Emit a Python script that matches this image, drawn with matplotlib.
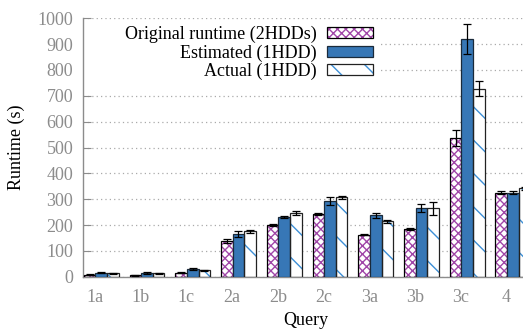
import numpy as np
import matplotlib
matplotlib.use("Agg")
import matplotlib.pyplot as plt
from matplotlib.patches import Patch, Rectangle

# values (seconds)
queries = ['1a', '1b', '1c', '2a', '2b', '2c', '3a', '3b', '3c', '4']
orig = [7, 6, 16, 138, 201, 243, 163, 185, 537, 325]
orig_err = [2, 2, 3, 8, 3, 5, 3, 4, 32, 6]
est = [16, 14, 29, 166, 232, 294, 237, 265, 920, 325]
est_err = [3, 3, 3, 12, 3, 16, 11, 15, 57, 6]
act = [14, 13, 25, 175, 246, 308, 215, 264, 728, 342]
act_err = [2, 2, 2, 6, 9, 6, 6, 27, 28, 6]
labels = ['Original runtime (2HDDs)', 'Estimated (1HDD)', 'Actual (1HDD)']

plt.rcParams['font.family'] = ['Liberation Serif', 'DejaVu Serif']
plt.rcParams['font.size'] = 13
plt.rcParams['hatch.linewidth'] = 1.0

grey = '#8c8c8c'
purple = '#a046a8'
blue = '#3777b6'
lightblue = '#3d8fd6'

fig = plt.figure(figsize=(5.23, 3.31), dpi=100)
ax = fig.add_axes([83 / 523, 1 - 276.7 / 331, 445 / 523, (276.7 - 18.3) / 331])

x = np.arange(len(queries))
w = 0.254
xo = x - 0.114
xe = x + 0.14
xa = x + 0.394

# original: purple crosshatch over white, black outline
ax.bar(xo, orig, w, color='white', edgecolor=purple, hatch='xxxx', linewidth=0, zorder=2)
ax.bar(xo, orig, w, fill=False, edgecolor='black', linewidth=0.9, zorder=3)
# estimated: solid blue
ax.bar(xe, est, w, color=blue, edgecolor='#1a2a3a', linewidth=0.9, zorder=3)
# actual: white with sparse blue diagonals
ax.bar(xa, act, w, color='white', edgecolor=lightblue, hatch='\\', linewidth=0, zorder=2)
ax.bar(xa, act, w, fill=False, edgecolor='#222222', linewidth=0.9, zorder=3)

for xs, ys, es in [(xo, orig, orig_err), (xe, est, est_err), (xa, act, act_err)]:
    ax.errorbar(xs, ys, yerr=es, fmt='none', ecolor='black', elinewidth=0.9,
                capsize=3, capthick=0.9, zorder=4)

ax.set_xlim(-0.26, 9.47)
ax.set_ylim(0, 1000)
ax.set_yticks(range(0, 1001, 100))
ax.set_xticks(x)
ax.set_xticklabels(queries)

ax.set_axisbelow(True)
ax.yaxis.grid(True, color='#aaaaaa', linestyle=(0, (1, 2.5)), linewidth=0.9)
ax.xaxis.grid(False)

for s in ['top', 'right']:
    ax.spines[s].set_visible(False)
for s in ['left', 'bottom']:
    ax.spines[s].set_color(grey)
    ax.spines[s].set_linewidth(1.0)

ax.tick_params(axis='y', direction='in', length=6, color=grey, labelcolor=grey, pad=7)
ax.tick_params(axis='x', length=0, labelcolor=grey, pad=9)

ax.set_ylabel('Runtime (s)', labelpad=9)
ax.set_xlabel('Query', labelpad=4)

# white area behind the key
ax.add_patch(Rectangle((0.002, 0.735), 0.665, 0.23, transform=ax.transAxes,
                       facecolor='white', edgecolor='none', zorder=1))

h_orig = (Patch(facecolor='white', edgecolor=purple, hatch='xxxx', linewidth=0),
          Patch(fill=False, edgecolor='black', linewidth=0.9))
h_est = Patch(facecolor=blue, edgecolor='#1a2a3a', linewidth=0.9)
h_act = (Patch(facecolor='white', edgecolor=lightblue, hatch='\\', linewidth=0),
         Patch(fill=False, edgecolor='#222222', linewidth=0.9))
leg = ax.legend([h_orig, h_est, h_act], labels, loc='upper right',
                bbox_transform=fig.transFigure, bbox_to_anchor=(373 / 523, 1 - 26 / 331),
                markerfirst=False, frameon=False, borderpad=0, borderaxespad=0,
                handlelength=2.55, handleheight=0.55, handletextpad=0.55,
                labelspacing=0.05, fontsize=13)
leg.set_zorder(5)

fig.savefig('out.png', dpi=100)
